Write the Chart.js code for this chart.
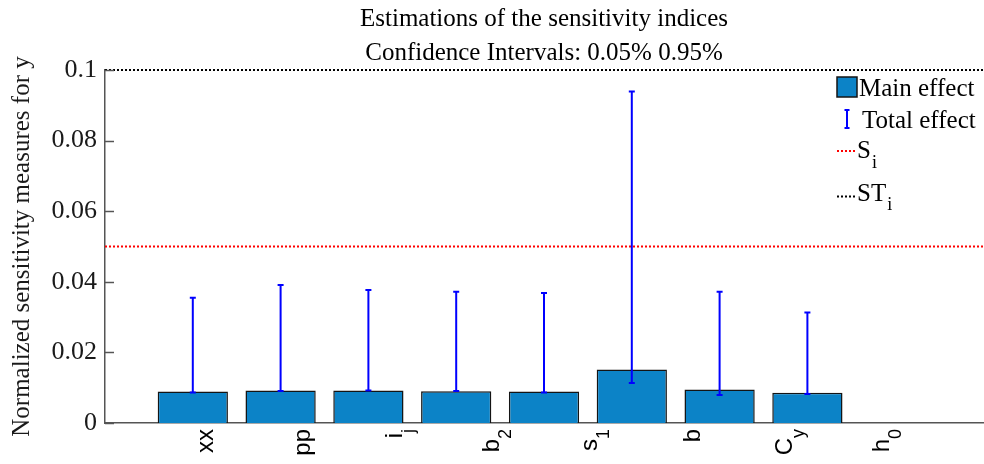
<!DOCTYPE html>
<html>
<head>
<meta charset="utf-8">
<script src="https://cdn.jsdelivr.net/npm/chart.js@4.4.1/dist/chart.umd.min.js"></script>
<style>
  html, body { margin: 0; padding: 0; background: #ffffff; }
  #c { display: block; }
</style>
</head>
<body>
<canvas id="c" width="984" height="464"></canvas>
<script>
// Parameters (an underscore marks a subscript) and their sensitivity estimates
const parameters = ['xx', 'pp', 'i_j', 'b_2', 's_1', 'b', 'C_y', 'h_0'];
const mainEffect = [0.00894, 0.00922, 0.00922, 0.00902, 0.00894, 0.01518, 0.00950, 0.00854];
const totalLow   = [0.00865, 0.00910, 0.00920, 0.00910, 0.00865, 0.01130, 0.00790, 0.00820];
const totalHigh  = [0.03550, 0.03910, 0.03770, 0.03720, 0.03680, 0.09390, 0.03720, 0.03130];

// Threshold levels drawn as dotted reference lines
const siLevel  = [0.05, 0.05];
const stiLevel = [0.1, 0.1];

// Axis settings
const barAxisRange   = [0, 10];   // bars sit at 1..8
const labelAxisRange = [0, 9];    // tick labels sit at 1..8
const yRange = [0, 0.1];
const yTickLabels = ['0', '0.02', '0.04', '0.06', '0.08', '0.1'];

const titleLines = ['Estimations of the sensitivity indices', 'Confidence Intervals: 0.05% 0.95%'];
const yTitle = 'Normalized sensitivity measures for y';
const legendLabels = ['Main effect', 'Total effect', 'S_i', 'ST_i'];

const BAR_FILL = '#0C83C7';
const BAR_EDGE = '#141414';
const ERR_COLOR = '#0000FF';
const AXIS_COLOR = '#555555';
const SERIF = '"Liberation Serif", "Times New Roman", serif';
const SANS = '"Liberation Sans", Arial, sans-serif';

// Draw text where "_" introduces a lowered, smaller subscript; returns end x
function drawSubText(ctx, text, x, y, size, subSize, drop, color) {
  const [base, sub] = text.split('_');
  ctx.fillStyle = color;
  ctx.textAlign = 'left';
  ctx.textBaseline = 'alphabetic';
  ctx.font = size + 'px ' + SERIF;
  ctx.fillText(base, x, y);
  let end = x + ctx.measureText(base).width;
  if (sub) {
    ctx.font = subSize + 'px ' + SERIF;
    ctx.fillText(sub, end + 1, y + drop);
    end += 1 + ctx.measureText(sub).width;
  }
  return end;
}

const decorations = {
  id: 'decorations',
  afterDatasetsDraw(chart) {
    const { ctx } = chart;
    const xs = chart.scales.x, ys = chart.scales.y;
    // Total effect intervals
    ctx.save();
    ctx.strokeStyle = ERR_COLOR;
    ctx.lineWidth = 2;
    mainEffect.forEach((_, i) => {
      const px = xs.getPixelForValue(i + 1);
      const y1 = ys.getPixelForValue(totalLow[i]);
      const y2 = ys.getPixelForValue(totalHigh[i]);
      ctx.beginPath();
      ctx.moveTo(px, y1); ctx.lineTo(px, y2);
      ctx.moveTo(px - 3, y1); ctx.lineTo(px + 3, y1);
      ctx.moveTo(px - 3, y2); ctx.lineTo(px + 3, y2);
      ctx.stroke();
    });
    ctx.restore();
  },
  afterDraw(chart) {
    const { ctx, chartArea: area } = chart;
    const ys = chart.scales.y, xl = chart.scales.xl;

    // Title, centred over the plot area
    ctx.save();
    ctx.fillStyle = '#000';
    ctx.textAlign = 'center';
    ctx.textBaseline = 'middle';
    ctx.font = '25px ' + SERIF;
    const cx = (area.left + area.right) / 2;
    titleLines.forEach((t, i) => ctx.fillText(t, cx, 19 + i * 34));
    ctx.restore();

    // Inward tick marks on the y axis
    ctx.save();
    ctx.strokeStyle = AXIS_COLOR;
    ctx.lineWidth = 1.5;
    ys.ticks.forEach(t => {
      const py = Math.round(ys.getPixelForValue(t.value)) + 0.5;
      ctx.beginPath();
      ctx.moveTo(area.left, py); ctx.lineTo(area.left + 9, py);
      ctx.stroke();
    });
    ctx.restore();

    // Rotated parameter names with subscripts
    ctx.save();
    ctx.fillStyle = '#000';
    parameters.forEach((p, i) => {
      const [base, sub] = p.split('_');
      const px = xl.getPixelForValue(i + 1);
      ctx.save();
      ctx.translate(px, area.bottom + 6);
      ctx.rotate(-Math.PI / 2);
      ctx.textAlign = 'left';
      ctx.textBaseline = 'alphabetic';
      ctx.font = '24px ' + SANS;
      const wb = ctx.measureText(base).width;
      ctx.font = '18px ' + SANS;
      const ws = sub ? ctx.measureText(sub).width : 0;
      const total = wb + ws;
      const baseY = sub ? 4 : 10;
      ctx.font = '24px ' + SANS;
      ctx.fillText(base, -total, baseY);
      if (sub) {
        ctx.font = '18px ' + SANS;
        ctx.fillText(sub, -ws, baseY + 12);
      }
      ctx.restore();
    });
    ctx.restore();

    // Legend
    const lx = area.right - 146, ly = area.top;
    ctx.save();
    ctx.fillStyle = BAR_FILL;
    ctx.fillRect(lx, ly + 7, 20, 20);
    ctx.strokeStyle = BAR_EDGE;
    ctx.lineWidth = 1.5;
    ctx.strokeRect(lx, ly + 7, 20, 20);
    drawSubText(ctx, legendLabels[0], lx + 22, ly + 26, 25, 18, 10, '#000');

    ctx.strokeStyle = ERR_COLOR;
    ctx.lineWidth = 2;
    ctx.beginPath();
    ctx.moveTo(lx + 10, ly + 40); ctx.lineTo(lx + 10, ly + 58);
    ctx.moveTo(lx + 7.5, ly + 40); ctx.lineTo(lx + 12.5, ly + 40);
    ctx.moveTo(lx + 7.5, ly + 58); ctx.lineTo(lx + 12.5, ly + 58);
    ctx.stroke();
    drawSubText(ctx, legendLabels[1], lx + 25, ly + 58, 25, 18, 10, '#000');

    ctx.lineWidth = 2;
    ctx.setLineDash([2, 2]);
    ctx.strokeStyle = '#FF0000';
    ctx.beginPath(); ctx.moveTo(lx, ly + 81); ctx.lineTo(lx + 18, ly + 81); ctx.stroke();
    ctx.strokeStyle = '#000000';
    ctx.beginPath(); ctx.moveTo(lx, ly + 126.5); ctx.lineTo(lx + 18, ly + 126.5); ctx.stroke();
    ctx.setLineDash([]);
    drawSubText(ctx, legendLabels[2], lx + 20, ly + 88, 25, 18, 10, '#000');
    drawSubText(ctx, legendLabels[3], lx + 20, ly + 131, 25, 18, 9, '#000');
    ctx.restore();
  }
};

new Chart(document.getElementById('c'), {
  type: 'bar',
  data: {
    datasets: [
      {
        type: 'bar',
        label: legendLabels[0],
        data: mainEffect.map((v, i) => ({ x: i + 1, y: v })),
        xAxisID: 'x',
        yAxisID: 'y',
        backgroundColor: BAR_FILL,
        borderColor: BAR_EDGE,
        borderWidth: 1.5,
        barPercentage: 1,
        categoryPercentage: 0.8,
        order: 2
      },
      {
        type: 'line',
        label: legendLabels[2],
        data: siLevel.map((v, i) => ({ x: barAxisRange[i], y: v })),
        xAxisID: 'x',
        yAxisID: 'y',
        borderColor: '#FF0000',
        borderWidth: 2,
        borderDash: [2, 2],
        pointRadius: 0,
        fill: false,
        clip: false,
        order: 1
      },
      {
        type: 'line',
        label: legendLabels[3],
        data: stiLevel.map((v, i) => ({ x: barAxisRange[i], y: v })),
        xAxisID: 'x',
        yAxisID: 'y',
        borderColor: '#000000',
        borderWidth: 2,
        borderDash: [2, 2],
        pointRadius: 0,
        fill: false,
        clip: false,
        order: 1
      }
    ]
  },
  options: {
    responsive: false,
    animation: false,
    devicePixelRatio: 1,
    layout: { padding: { left: 0, right: 1, top: 70, bottom: 0 } },
    plugins: {
      legend: { display: false },
      title: { display: false },
      tooltip: { enabled: false }
    },
    scales: {
      x: {
        type: 'linear',
        position: 'bottom',
        offset: false,
        min: barAxisRange[0],
        max: barAxisRange[1],
        ticks: { display: false },
        grid: { display: false, drawTicks: false, offset: false },
        border: { display: true, color: AXIS_COLOR, width: 1.5 },
        afterFit(s) { s.height = 41; }
      },
      xl: {
        type: 'linear',
        position: 'bottom',
        offset: false,
        min: labelAxisRange[0],
        max: labelAxisRange[1],
        grid: { offset: false },
        display: false
      },
      y: {
        type: 'linear',
        min: yRange[0],
        max: yRange[1],
        ticks: {
          stepSize: 0.02,
          callback: (v, i) => yTickLabels[i],
          font: { family: SERIF, size: 26 },
          color: '#1a1a1a',
          padding: 8
        },
        grid: { display: false, drawTicks: false },
        border: { display: true, color: AXIS_COLOR, width: 1.5 },
        title: {
          display: true,
          text: yTitle,
          font: { family: SERIF, size: 25 },
          color: '#1a1a1a',
          padding: { top: 7, bottom: 0 }
        },
        afterFit(s) { s.width = 105; }
      }
    }
  },
  plugins: [decorations]
});
</script>
</body>
</html>
